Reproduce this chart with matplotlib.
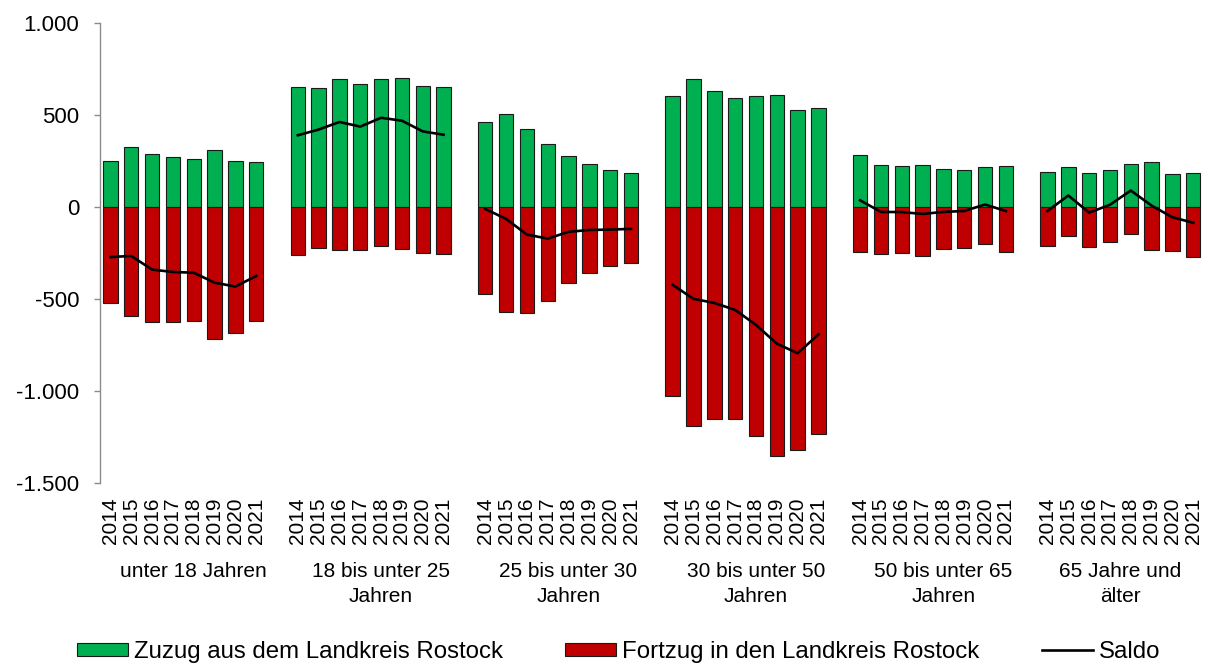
import numpy as np
import matplotlib
matplotlib.use("Agg")
import matplotlib.pyplot as plt
from matplotlib.ticker import FuncFormatter
from matplotlib.patches import Patch
from matplotlib.lines import Line2D
from matplotlib.transforms import blended_transform_factory

plt.rcParams['font.family'] = ['Liberation Sans', 'DejaVu Sans']

years = ["2014", "2015", "2016", "2017", "2018", "2019", "2020", "2021"]
age_groups = ["unter 18 Jahren", "18 bis unter 25\nJahren", "25 bis unter 30\nJahren",
              "30 bis unter 50\nJahren", "50 bis unter 65\nJahren", "65 Jahre und\nälter"]

# Zuzug aus dem Landkreis Rostock, per age group and year
zuzug_u18 = [251, 327, 287, 273, 260, 307, 250, 242]
zuzug_18_25 = [651, 644, 694, 669, 694, 698, 658, 649]
zuzug_25_30 = [461, 503, 423, 340, 277, 235, 199, 183]
zuzug_30_50 = [602, 692, 629, 591, 602, 609, 524, 539]
zuzug_50_65 = [280, 230, 222, 226, 204, 199, 215, 222]
zuzug_65 = [188, 219, 186, 202, 235, 242, 181, 183]

# Fortzug in den Landkreis Rostock (negative)
fortzug_u18 = [-523, -593, -627, -626, -617, -718, -682, -617]
fortzug_18_25 = [-262, -224, -233, -233, -210, -230, -248, -257]
fortzug_25_30 = [-472, -568, -573, -512, -412, -360, -322, -302]
fortzug_30_50 = [-1025, -1191, -1150, -1150, -1242, -1351, -1318, -1231]
fortzug_50_65 = [-244, -257, -250, -264, -231, -221, -202, -244]
fortzug_65 = [-210, -157, -217, -190, -146, -235, -237, -269]

# Saldo
saldo_u18 = [-272, -266, -340, -353, -357, -411, -432, -375]
saldo_18_25 = [389, 420, 461, 436, 484, 468, 410, 392]
saldo_25_30 = [-11, -65, -150, -172, -135, -125, -123, -119]
saldo_30_50 = [-423, -499, -521, -559, -640, -742, -794, -692]
saldo_50_65 = [36, -27, -28, -38, -27, -22, 13, -22]
saldo_65 = [-22, 62, -31, 12, 89, 7, -56, -86]

zuzug = [zuzug_u18, zuzug_18_25, zuzug_25_30, zuzug_30_50, zuzug_50_65, zuzug_65]
fortzug = [fortzug_u18, fortzug_18_25, fortzug_25_30, fortzug_30_50, fortzug_50_65, fortzug_65]
saldo = [saldo_u18, saldo_18_25, saldo_25_30, saldo_30_50, saldo_50_65, saldo_65]

GREEN = "#00B050"
RED = "#C00000"
AXIS_GREY = "#8c8c8c"

W, H = 1208, 666
fig = plt.figure(figsize=(W / 100, H / 100), dpi=100)
ax = fig.add_axes([100 / W, 1 - 483.3 / H, (1203.7 - 100) / W, (483.3 - 22.7) / H])

step = len(years) + 1  # one empty slot between age groups
n_slots = step * len(age_groups) - 1
tick_pos, tick_lab = [], []
tr = blended_transform_factory(ax.transData, fig.transFigure)
for g, name in enumerate(age_groups):
    x = np.arange(len(years)) + g * step
    ax.bar(x, zuzug[g], width=0.69, color=GREEN, edgecolor="#1a1a1a", linewidth=0.8, zorder=2)
    ax.bar(x, fortzug[g], width=0.69, color=RED, edgecolor="#1a1a1a", linewidth=0.8, zorder=2)
    ax.plot(x, saldo[g], color="black", linewidth=1.9, zorder=3, solid_joinstyle="round")
    tick_pos.extend(x)
    tick_lab.extend(years)
    span_end = min(g * step + len(years), n_slots - 1)
    center = (g * step + span_end) / 2
    ax.text(center, 1 - 562 / H, name, transform=tr, ha="center", va="top",
            fontsize=15, linespacing=1.38, multialignment="center")

ax.set_xlim(-0.5, n_slots - 0.5)
ax.set_ylim(-1500, 1000)
ax.set_yticks([-1500, -1000, -500, 0, 500, 1000])
ax.yaxis.set_major_formatter(FuncFormatter(lambda v, p: f"{int(v):,}".replace(",", ".")))
ax.set_xticks(tick_pos)
ax.set_xticklabels(tick_lab, rotation=90, fontsize=15)
ax.tick_params(axis="x", length=0, pad=10.5)
ax.tick_params(axis="y", length=4.3, width=1, color=AXIS_GREY, pad=10.5, labelsize=16)

for side in ("top", "right", "bottom"):
    ax.spines[side].set_visible(False)
ax.spines["left"].set_color(AXIS_GREY)
ax.spines["left"].set_linewidth(1)

handles = [
    Patch(facecolor=GREEN, edgecolor="#1a1a1a", linewidth=0.8),
    Patch(facecolor=RED, edgecolor="#1a1a1a", linewidth=0.8),
    Line2D([0], [0], color="black", linewidth=1.9),
]
labels = ["Zuzug aus dem Landkreis Rostock", "Fortzug in den Landkreis Rostock", "Saldo"]
fig.legend(handles, labels, loc="center left", bbox_to_anchor=(77 / W, 1 - 652 / H),
           ncol=3, frameon=False, fontsize=17.3, borderpad=0, borderaxespad=0,
           handlelength=2.12, handleheight=0.47, handletextpad=0.25, columnspacing=2.6)

fig.savefig("out.png", dpi=100)
